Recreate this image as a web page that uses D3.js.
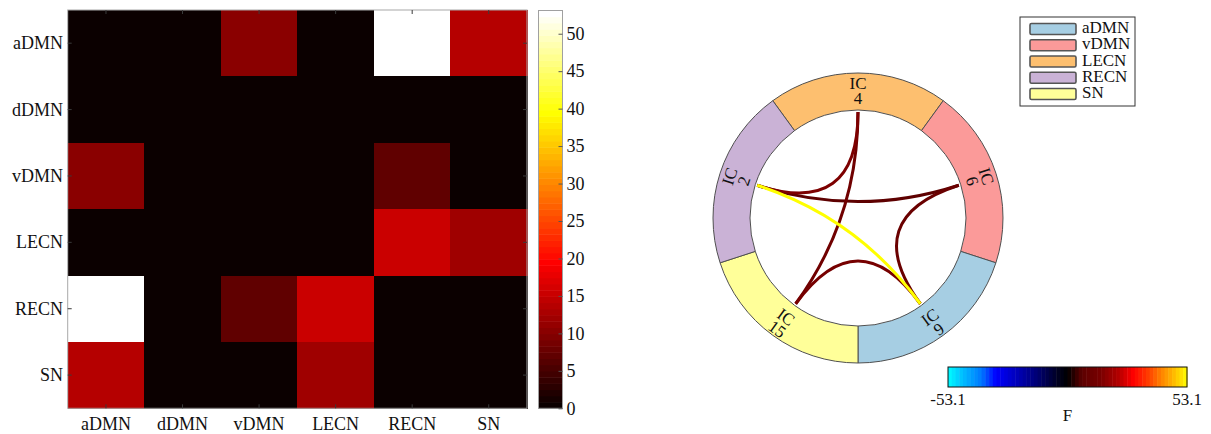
<!DOCTYPE html>
<html>
<head>
<meta charset="utf-8">
<script src="https://cdn.jsdelivr.net/npm/d3@7"></script>
<style>
  html, body { margin: 0; padding: 0; background: #fff; }
  svg { display: block; font-family: "Liberation Serif", "Times New Roman", serif; }
</style>
</head>
<body>
<svg id="chart" width="1211" height="434"></svg>
<script>
// ---- data ----
const networks = ["aDMN", "dDMN", "vDMN", "LECN", "RECN", "SN"];
// symmetric F-statistic matrix between networks (rows/cols follow `networks`)
const fRowADMN = [0, 0, 10.4, 0, 53.1, 13.7];
const fRowDDMN = [0, 0, 0, 0, 0, 0];
const fRowVDMN = [10.4, 0, 0, 0, 7.0, 0];
const fRowLECN = [0, 0, 0, 0, 15.3, 12.0];
const fRowRECN = [53.1, 0, 7.0, 15.3, 0, 0];
const fRowSN   = [13.7, 0, 0, 12.0, 0, 0];
const fMatrix = [fRowADMN, fRowDDMN, fRowVDMN, fRowLECN, fRowRECN, fRowSN];
const fMax = 53.1;
const colorbarTicks = [0, 5, 10, 15, 20, 25, 30, 35, 40, 45, 50];

// connectogram ring: networks clockwise from 12 o'clock and their IC numbers
const ringNetworks = ["LECN", "vDMN", "aDMN", "SN", "RECN"];
const ringIC = ["4", "6", "9", "15", "2"];
const legendNetworks = ["aDMN", "vDMN", "LECN", "RECN", "SN"];
const legendColors = ["#a6cee3", "#fb9a99", "#fdbf6f", "#cab2d6", "#ffff99"];
const fRangeLabels = ["-53.1", "53.1"];
const fAxisTitle = "F";

const svg = d3.select("#chart");

// ---- MATLAB-style "hot" colormap, 64 levels ----
const hot64 = d3.range(64).map(i => {
  const r = Math.min(1, (i + 1) / 24);
  const g = Math.max(0, Math.min(1, (i + 1 - 24) / 24));
  const b = Math.max(0, Math.min(1, (i + 1 - 48) / 16));
  return d3.rgb(r * 255, g * 255, b * 255).formatHex();
});
const hotColor = v => hot64[Math.max(0, Math.min(63, Math.floor(v / fMax * 64)))];

// ---- heatmap ----
const hm = { x0: 67.7, x1: 527, y0: 10, y1: 408.3 };
const xBand = d3.scaleBand().domain(networks).range([hm.x0, hm.x1]);
const yBand = d3.scaleBand().domain(networks).range([hm.y0, hm.y1]);

const cells = [];
fMatrix.forEach((row, i) => row.forEach((v, j) => cells.push({ r: networks[i], c: networks[j], v })));

const gHeat = svg.append("g");
gHeat.selectAll("rect.cell").data(cells).join("rect")
  .attr("class", "cell")
  .attr("x", d => xBand(d.c))
  .attr("y", d => yBand(d.r))
  .attr("width", xBand.bandwidth() + 0.5)
  .attr("height", yBand.bandwidth() + 0.5)
  .attr("fill", d => hotColor(d.v))
  .attr("shape-rendering", "crispEdges");

gHeat.append("rect")
  .attr("x", hm.x0).attr("y", hm.y0)
  .attr("width", hm.x1 - hm.x0).attr("height", hm.y1 - hm.y0)
  .attr("fill", "none").attr("stroke", "#a8a8a8").attr("stroke-width", 1);

// small inward ticks at category centres on all four sides
const tickLen = 4;
networks.forEach(n => {
  const cx = xBand(n) + xBand.bandwidth() / 2;
  const cy = yBand(n) + yBand.bandwidth() / 2;
  [[cx, hm.y0, cx, hm.y0 + tickLen], [cx, hm.y1, cx, hm.y1 - tickLen],
   [hm.x0, cy, hm.x0 + tickLen, cy], [hm.x1, cy, hm.x1 - tickLen, cy]].forEach(t => {
    gHeat.append("line").attr("x1", t[0]).attr("y1", t[1]).attr("x2", t[2]).attr("y2", t[3])
      .attr("stroke", "#3a3a3a").attr("stroke-width", 1);
  });
});

// axis labels
gHeat.selectAll("text.ylab").data(networks).join("text")
  .attr("class", "ylab")
  .attr("x", 63)
  .attr("y", d => yBand(d) + yBand.bandwidth() / 2 + 6)
  .attr("text-anchor", "end")
  .attr("font-size", 18)
  .attr("fill", "#111")
  .text(d => d);

gHeat.selectAll("text.xlab").data(networks).join("text")
  .attr("class", "xlab")
  .attr("x", d => xBand(d) + xBand.bandwidth() / 2)
  .attr("y", 430)
  .attr("text-anchor", "middle")
  .attr("font-size", 18)
  .attr("fill", "#111")
  .text(d => d);

// ---- vertical colorbar ----
const cb = { x0: 538.5, x1: 562.5, y0: 10.5, y1: 408.3 };
const cbY = d3.scaleLinear().domain([0, fMax]).range([cb.y1, cb.y0]);
const gCb = svg.append("g");
gCb.selectAll("rect.band").data(hot64).join("rect")
  .attr("class", "band")
  .attr("x", cb.x0)
  .attr("width", cb.x1 - cb.x0)
  .attr("y", (d, i) => cbY((i + 1) / 64 * fMax))
  .attr("height", (d, i) => cbY(i / 64 * fMax) - cbY((i + 1) / 64 * fMax) + 0.5)
  .attr("fill", d => d);
gCb.append("rect")
  .attr("x", cb.x0).attr("y", cb.y0)
  .attr("width", cb.x1 - cb.x0).attr("height", cb.y1 - cb.y0)
  .attr("fill", "none").attr("stroke", "#a0a0a0").attr("stroke-width", 1);
const cbAxis = d3.axisRight(cbY).tickValues(colorbarTicks).tickSize(-4).tickPadding(8).tickFormat(d3.format("d"));
const gAxis = gCb.append("g").attr("transform", `translate(${cb.x1},0)`).call(cbAxis);
gAxis.select(".domain").remove();
gAxis.selectAll(".tick line").attr("stroke", "#555");
gAxis.selectAll(".tick text")
  .attr("font-family", "Liberation Serif, Times New Roman, serif")
  .attr("font-size", 18).attr("fill", "#111").attr("x", 4).attr("dy", "0.32em");

// ---- connectogram ----
const cc = { x: 858, y: 218 };
const rIn = 108, rOut = 145, rMid = 126.5, rLink = 106;
const step = 2 * Math.PI / ringNetworks.length;
const ringColor = d3.scaleOrdinal().domain(legendNetworks).range(legendColors);
const gRing = svg.append("g").attr("transform", `translate(${cc.x},${cc.y})`);

const arc = d3.arc().innerRadius(rIn).outerRadius(rOut);
gRing.selectAll("path.seg").data(ringNetworks).join("path")
  .attr("class", "seg")
  .attr("d", (d, i) => arc({ startAngle: (i - 0.5) * step, endAngle: (i + 0.5) * step }))
  .attr("fill", d => ringColor(d))
  .attr("stroke", "#505050").attr("stroke-width", 1);

const nodePos = (name, r) => {
  const a = ringNetworks.indexOf(name) * step;
  return [r * Math.sin(a), -r * Math.cos(a)];
};

// diverging colour scale for the links, -F .. +F
const divStops = [-1, -0.9, -0.72, -0.6, -0.4, -0.25, -0.08, 0, 0.12, 0.28, 0.42, 0.55, 0.68, 0.78, 0.9, 1];
const divColors = ["#00ffff", "#00c8ff", "#0078ff", "#0000ff", "#0000b0", "#000070", "#000020", "#000000",
                   "#5c0000", "#7a0000", "#b00000", "#ff0000", "#ff4000", "#ff8000", "#ffc000", "#ffff00"];
const linkColor = d3.scaleLinear().domain(divStops.map(s => s * fMax)).range(divColors).clamp(true);

// links: every non-zero pair of networks shown on the ring
const links = [];
for (let i = 0; i < networks.length; i++) {
  for (let j = i + 1; j < networks.length; j++) {
    const v = fMatrix[i][j];
    if (v !== 0 && ringNetworks.includes(networks[i]) && ringNetworks.includes(networks[j])) {
      links.push({ s: networks[i], t: networks[j], v });
    }
  }
}
links.sort((a, b) => a.v - b.v);
gRing.selectAll("path.link").data(links).join("path")
  .attr("class", "link")
  .attr("d", d => {
    const p = d3.path();
    const a = nodePos(d.s, rLink), b = nodePos(d.t, rLink);
    p.moveTo(a[0], a[1]);
    p.quadraticCurveTo(0, 0, b[0], b[1]);
    return p.toString();
  })
  .attr("fill", "none")
  .attr("stroke", d => linkColor(d.v))
  .attr("stroke-width", 3)
  .attr("stroke-linecap", "butt");

// IC labels along the ring, kept upright
ringNetworks.forEach((n, i) => {
  const deg = i * 360 / ringNetworks.length;
  const flip = deg > 90 && deg < 270;
  const rot = flip ? deg - 180 : deg;
  const [x, y] = nodePos(n, rMid);
  const shift = flip ? 4.5 : 0;
  const t = gRing.append("text")
    .attr("transform", `translate(${x},${y}) rotate(${rot})`)
    .attr("text-anchor", "middle")
    .attr("font-size", 17)
    .attr("fill", "#111");
  t.append("tspan").attr("x", 0).attr("y", -2.8 + shift).text("IC");
  t.append("tspan").attr("x", 0).attr("y", 12.2 + shift).text(ringIC[i]);
});

// ---- legend ----
const gLeg = svg.append("g");
gLeg.append("rect").attr("x", 1020).attr("y", 17).attr("width", 115).attr("height", 89)
  .attr("fill", "#fff").attr("stroke", "#333").attr("stroke-width", 1);
const legY = d3.scalePoint().domain(legendNetworks).range([29, 94]);
legendNetworks.forEach((n, i) => {
  gLeg.append("rect")
    .attr("x", 1030).attr("y", legY(n) - 5.5).attr("width", 46).attr("height", 11)
    .attr("rx", 1.5)
    .attr("fill", legendColors[i]).attr("stroke", "#555").attr("stroke-width", 1.6);
  gLeg.append("text")
    .attr("x", 1082).attr("y", legY(n) + 4)
    .attr("font-size", 17).attr("fill", "#111")
    .text(n);
});

// ---- horizontal F colorbar ----
const hb = { x0: 948, x1: 1187, y0: 367, y1: 387 };
const hbX = d3.scaleLinear().domain([-fMax, fMax]).range([hb.x0, hb.x1]);
const nBands = 64;
const hbBands = d3.range(nBands).map(i => -fMax + (i + 0.5) * 2 * fMax / nBands);
const gHb = svg.append("g");
gHb.selectAll("rect.hband").data(hbBands).join("rect")
  .attr("class", "hband")
  .attr("x", (d, i) => hbX(-fMax + i * 2 * fMax / nBands))
  .attr("width", (hb.x1 - hb.x0) / nBands + 0.5)
  .attr("y", hb.y0).attr("height", hb.y1 - hb.y0)
  .attr("fill", d => linkColor(d));
gHb.append("rect").attr("x", hb.x0).attr("y", hb.y0)
  .attr("width", hb.x1 - hb.x0).attr("height", hb.y1 - hb.y0)
  .attr("fill", "none").attr("stroke", "#111").attr("stroke-width", 1);
gHb.selectAll("text.rng").data([-fMax, fMax]).join("text")
  .attr("class", "rng")
  .attr("x", d => hbX(d))
  .attr("y", 405)
  .attr("text-anchor", "middle")
  .attr("font-size", 17).attr("fill", "#111")
  .text((d, i) => fRangeLabels[i]);
gHb.append("text")
  .attr("x", hbX(0)).attr("y", 421)
  .attr("text-anchor", "middle")
  .attr("font-size", 17).attr("fill", "#111")
  .text(fAxisTitle);
</script>
</body>
</html>
